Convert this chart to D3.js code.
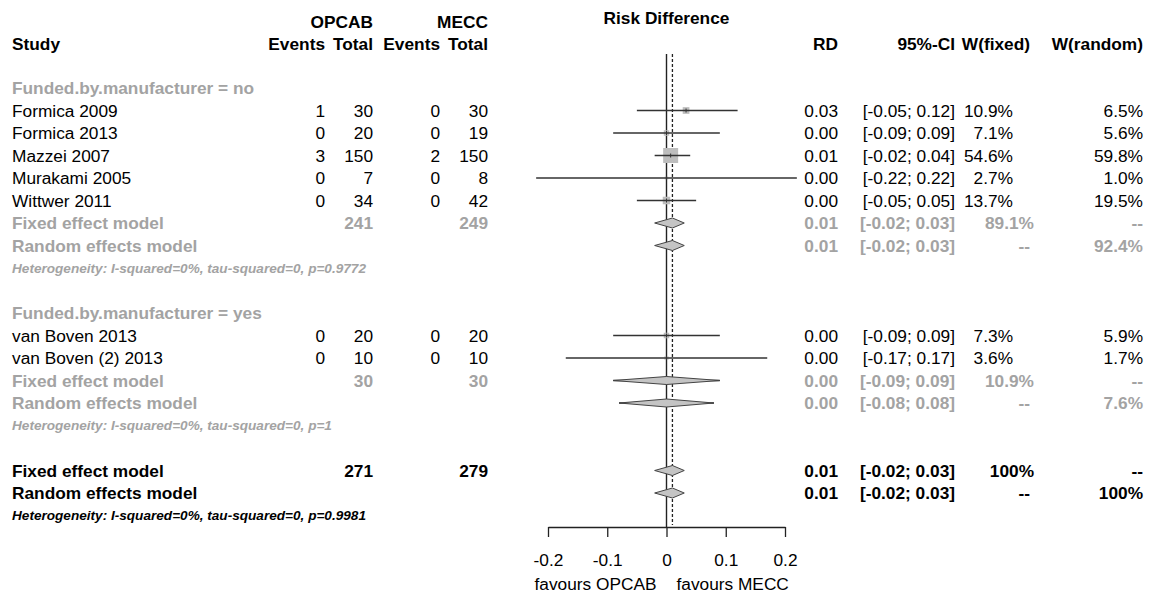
<!DOCTYPE html>
<html>
<head>
<meta charset="utf-8">
<script src="https://cdn.jsdelivr.net/npm/d3@7"></script>
<style>
    body { margin: 0; background: #fff; }
    svg { font-family: "Liberation Sans", Arial, sans-serif; }
</style>
</head>
<body>
<script>
// forest plot of risk differences, OPCAB vs MECC, split by funding

// study level data
var studies  = ["Formica 2009", "Formica 2013", "Mazzei 2007", "Murakami 2005",
                "Wittwer 2011", "van Boven 2013", "van Boven (2) 2013"];
var funded   = ["no", "no", "no", "no", "no", "yes", "yes"];
var eventsE  = [1, 0, 3, 0, 0, 0, 0];
var totalE   = [30, 20, 150, 7, 34, 20, 10];
var eventsC  = [0, 0, 2, 0, 0, 0, 0];
var totalC   = [30, 19, 150, 8, 42, 20, 10];
var rdText   = ["0.03", "0.00", "0.01", "0.00", "0.00", "0.00", "0.00"];
var rdPlot   = [0.033, 0.0, 0.007, 0.0, 0.0, 0.0, 0.0];
var lower    = [-0.05, -0.09, -0.02, -0.22, -0.05, -0.09, -0.17];
var upper    = [0.12, 0.09, 0.04, 0.22, 0.05, 0.09, 0.17];
var wFixed   = [10.9, 7.1, 54.6, 2.7, 13.7, 7.3, 3.6];
var wRandom  = [6.5, 5.6, 59.8, 1.0, 19.5, 5.9, 1.7];

// subgroup / overall summaries
var sumLabels = ["Fixed effect model", "Random effects model"];
var groupNames = ["no", "yes", "overall"];
var groupTotE  = [241, 30, 271];
var groupTotC  = [249, 30, 279];
var fixedEst   = [0.01, 0.00, 0.01];
var fixedLo    = [-0.02, -0.09, -0.02];
var fixedHi    = [0.03, 0.09, 0.03];
var randEst    = [0.01, 0.00, 0.01];
var randLo     = [-0.02, -0.08, -0.02];
var randHi     = [0.03, 0.08, 0.03];
var fixedWF    = ["89.1%", "10.9%", "100%"];
var randWR     = ["92.4%", "7.6%", "100%"];
var hetText    = ["Heterogeneity: I-squared=0%, tau-squared=0, p=0.9772",
                  "Heterogeneity: I-squared=0%, tau-squared=0, p=1",
                  "Heterogeneity: I-squared=0%, tau-squared=0, p=0.9981"];

var tickValues = [-0.2, -0.1, 0, 0.1, 0.2];

var width = 1151, height = 593;
var grey = "#a3a3a3";
var fs = 17.3;

var svg = d3.select("body").append("svg")
    .attr("width", width)
    .attr("height", height);

// x scale for the effect
var x = d3.scaleLinear().domain([-0.2, 0.2]).range([548, 785]);
// row scale
var row = d3.scaleLinear().domain([0, 19]).range([88, 515.5]);
// square size
var boxSize = d3.scaleSqrt().domain([0, 54.6]).range([0, 15]);

// column anchors (right aligned)
var col = {evE: 325, totE: 373, evC: 440, totC: 488,
           rd: 838, ci: 955, wf: 1013, wfSum: 1034, wr: 1143};

function txt(xp, yp, s, opt) {
    opt = opt || {};
    return svg.append("text")
        .attr("x", xp)
        .attr("y", yp + (opt.size || fs) * 0.36)
        .attr("text-anchor", opt.anchor || "end")
        .attr("font-size", opt.size || fs)
        .attr("font-weight", opt.bold ? "bold" : "normal")
        .attr("font-style", opt.italic ? "italic" : "normal")
        .attr("fill", opt.color || "#000")
        .text(s);
}

// headers
var h1 = 22, h2 = 44;
txt(373, h1, "OPCAB", {bold: true});
txt(488, h1, "MECC", {bold: true});
txt(x(0), h1 - 4, "Risk Difference", {bold: true, anchor: "middle"});
txt(12, h2, "Study", {bold: true, anchor: "start"});
txt(col.evE, h2, "Events", {bold: true});
txt(col.totE, h2, "Total", {bold: true});
txt(col.evC, h2, "Events", {bold: true});
txt(col.totC, h2, "Total", {bold: true});
txt(col.rd, h2, "RD", {bold: true});
txt(col.ci, h2, "95%-CI", {bold: true});
txt(1030, h2, "W(fixed)", {bold: true});
txt(col.wr, h2, "W(random)", {bold: true});

// reference lines
svg.append("line")
    .attr("x1", x(0)).attr("x2", x(0))
    .attr("y1", 54).attr("y2", 527)
    .attr("stroke", "#222").attr("stroke-width", 1.4);
svg.append("line")
    .attr("x1", x(0.01)).attr("x2", x(0.01))
    .attr("y1", 54).attr("y2", 525)
    .attr("stroke", "#222").attr("stroke-width", 1.3)
    .attr("stroke-dasharray", "3,2");

function fmtCI(lo, hi) {
    return "[" + lo.toFixed(2) + "; " + hi.toFixed(2) + "]";
}

function diamond(est, lo, hi, yc, h) {
    svg.append("path")
        .attr("d", "M" + x(lo) + "," + yc + "L" + x(est) + "," + (yc - h) +
                   "L" + x(hi) + "," + yc + "L" + x(est) + "," + (yc + h) + "Z")
        .attr("fill", "#c4c4c4")
        .attr("stroke", "#444")
        .attr("stroke-width", 1);
}

var rowIdx = 0;
groupNames.forEach(function(g, gi) {
    var isOverall = g === "overall";
    var c = isOverall ? "#000" : grey;

    if (!isOverall) {
        txt(12, row(rowIdx), "Funded.by.manufacturer = " + g,
            {anchor: "start", color: grey, bold: true});
        rowIdx++;

        studies.forEach(function(s, i) {
            if (funded[i] !== g) return;
            var yc = row(rowIdx);
            txt(12, yc, s, {anchor: "start"});
            txt(col.evE, yc, eventsE[i]);
            txt(col.totE, yc, totalE[i]);
            txt(col.evC, yc, eventsC[i]);
            txt(col.totC, yc, totalC[i]);
            txt(col.rd, yc, rdText[i]);
            txt(col.ci, yc, fmtCI(lower[i], upper[i]));
            txt(col.wf, yc, wFixed[i].toFixed(1) + "%");
            txt(col.wr, yc, wRandom[i].toFixed(1) + "%");

            var b = boxSize(wFixed[i]);
            svg.append("rect")
                .attr("x", x(rdPlot[i]) - b / 2)
                .attr("y", yc - b / 2)
                .attr("width", b).attr("height", b)
                .attr("fill", "#bdbdbd");
            svg.append("line")
                .attr("x1", x(lower[i])).attr("x2", x(upper[i]))
                .attr("y1", yc).attr("y2", yc)
                .attr("stroke", "#333").attr("stroke-width", 1.4);
            svg.append("line")
                .attr("x1", x(rdPlot[i])).attr("x2", x(rdPlot[i]))
                .attr("y1", yc - 2).attr("y2", yc + 2)
                .attr("stroke", "#333").attr("stroke-width", 1);
            rowIdx++;
        });
    }

    // fixed effect row
    var yf = row(rowIdx);
    var wide = fixedHi[gi] - fixedLo[gi] > 0.1;
    txt(12, yf, sumLabels[0], {anchor: "start", bold: true, color: c});
    txt(col.totE, yf, groupTotE[gi], {bold: true, color: c});
    txt(col.totC, yf, groupTotC[gi], {bold: true, color: c});
    txt(col.rd, yf, fixedEst[gi].toFixed(2), {bold: true, color: c});
    txt(col.ci, yf, fmtCI(fixedLo[gi], fixedHi[gi]), {bold: true, color: c});
    txt(col.wfSum, yf, fixedWF[gi], {bold: true, color: c});
    txt(col.wr, yf, "--", {bold: true, color: c});
    if (wide) {
        svg.append("line")
            .attr("x1", x(fixedLo[gi])).attr("x2", x(fixedHi[gi]))
            .attr("y1", yf).attr("y2", yf)
            .attr("stroke", "#333").attr("stroke-width", 1.4);
    }
    diamond(fixedEst[gi], fixedLo[gi], fixedHi[gi], yf, wide ? 4 : 5);
    rowIdx++;

    // random effects row
    var yr = row(rowIdx);
    wide = randHi[gi] - randLo[gi] > 0.1;
    txt(12, yr, sumLabels[1], {anchor: "start", bold: true, color: c});
    txt(col.rd, yr, randEst[gi].toFixed(2), {bold: true, color: c});
    txt(col.ci, yr, fmtCI(randLo[gi], randHi[gi]), {bold: true, color: c});
    txt(1030, yr, "--", {bold: true, color: c});
    txt(col.wr, yr, randWR[gi], {bold: true, color: c});
    if (wide) {
        svg.append("line")
            .attr("x1", x(randLo[gi])).attr("x2", x(randHi[gi]))
            .attr("y1", yr).attr("y2", yr)
            .attr("stroke", "#333").attr("stroke-width", 1.4);
    }
    diamond(randEst[gi], randLo[gi], randHi[gi], yr, wide ? 4 : 5);
    rowIdx++;

    // heterogeneity
    txt(12, row(rowIdx), hetText[gi],
        {anchor: "start", bold: true, italic: true, size: 13.6, color: c});
    rowIdx += 2;
});

// axis
var axis = d3.axisBottom(x)
    .tickValues(tickValues)
    .tickSize(10)
    .tickSizeOuter(0)
    .tickPadding(17)
    .tickFormat(function(d) { return String(d); });

var gAxis = svg.append("g")
    .attr("transform", "translate(0,527)")
    .call(axis);
gAxis.select(".domain").attr("stroke", "#222").attr("stroke-width", 1.3);
gAxis.selectAll(".tick line").attr("stroke", "#222").attr("stroke-width", 1.3);
gAxis.selectAll(".tick text")
    .attr("font-size", fs)
    .attr("font-family", "Liberation Sans, Arial, sans-serif")
    .attr("fill", "#000");

txt(x(0) - 10, 584, "favours OPCAB");
txt(x(0) + 10, 584, "favours MECC", {anchor: "start"});
</script>
</body>
</html>
